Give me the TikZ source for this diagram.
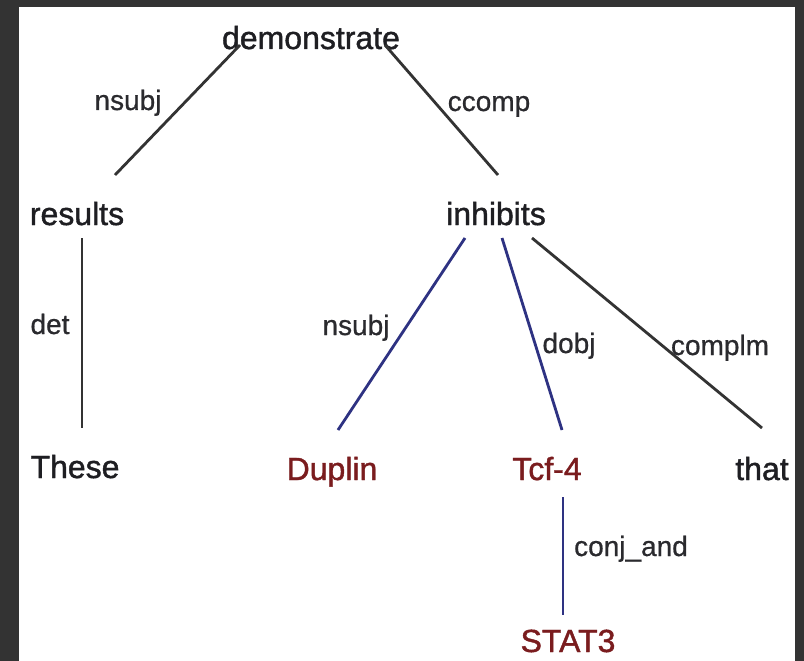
\documentclass[tikz,border=0pt]{standalone}
\usepackage{fontspec}
\setmainfont{Liberation Sans}
\newfontfamily\heavyfont{Liberation Sans}[FakeBold=1.3]
\newfontfamily\medfont{Liberation Sans}[FakeBold=0.7]
\usetikzlibrary{calc}
\definecolor{frame}{HTML}{333333}
\definecolor{wordblack}{HTML}{1E1E22}
\definecolor{genered}{HTML}{7A1C1E}
\definecolor{labgray}{HTML}{2A2A2E}
\definecolor{lineblack}{HTML}{333333}
\definecolor{lineblue}{HTML}{2E3282}
\begin{document}
\begin{tikzpicture}[x=1pt,y=-1pt,
  word/.style={font=\heavyfont\fontsize{32}{32}\selectfont, anchor=base, inner sep=0pt, text=wordblack},
  gene/.style={word, text=genered},
  lab/.style={font=\medfont\fontsize{28}{28}\selectfont, anchor=base, inner sep=0pt, text=labgray},
  blk/.style={line width=2.8pt, draw=lineblack},
  blu/.style={line width=2.8pt, draw=lineblue}]
\useasboundingbox (0,0) rectangle (804,661);
\fill[frame] (0,0) rectangle (804,661);
\fill[white] (19,7) rectangle (795,661);

% words
\node[word] (dem) at (311,49) {demonstrate};
\node[word] (res) at (77,225) {results};
\node[word] (inh) at (496,225) {inhibits};
\node[word] (these) at (75,478) {These};
\node[gene] (dup) at (332,480) {Duplin};
\node[gene] (tcf) at (547,480) {Tcf-4};
\node[word] (that) at (762,480) {that};
\node[gene] (stat) at (568,652) {STAT3};

% connectors
\draw[blk] ($(dem.base)+(-71,-4)$) -- ($(res.base)+(38,-50)$);
\draw[blk] ($(dem.base)+(74,-4)$) -- ($(inh.base)+(2,-50)$);
\draw[blk] ($(res.base)+(5,13)$) -- ($(these.base)+(7,-50)$);
\draw[blu] ($(inh.base)+(-31,13)$) -- ($(dup.base)+(6,-50)$);
\draw[blu] ($(inh.base)+(6,13)$) -- ($(tcf.base)+(15,-50)$);
\draw[blk] ($(inh.base)+(36,13)$) -- ($(that.base)+(0,-52)$);
\draw[blu] ($(tcf.base)+(16,17)$) -- ($(stat.base)+(-5,-37)$);

% labels
\node[lab] (l1) at (128,110) {nsubj};
\node[lab] (l2) at (489,111) {ccomp};
\node[lab] (l3) at (50,334) {det};
\node[lab] (l4) at (356,335) {nsubj};
\node[lab] (l5) at (569,353) {dobj};
\node[lab] (l6) at (720,355) {complm};
\node[lab] (l7) at (631,556) {conj\_and};
\end{tikzpicture}
\end{document}
